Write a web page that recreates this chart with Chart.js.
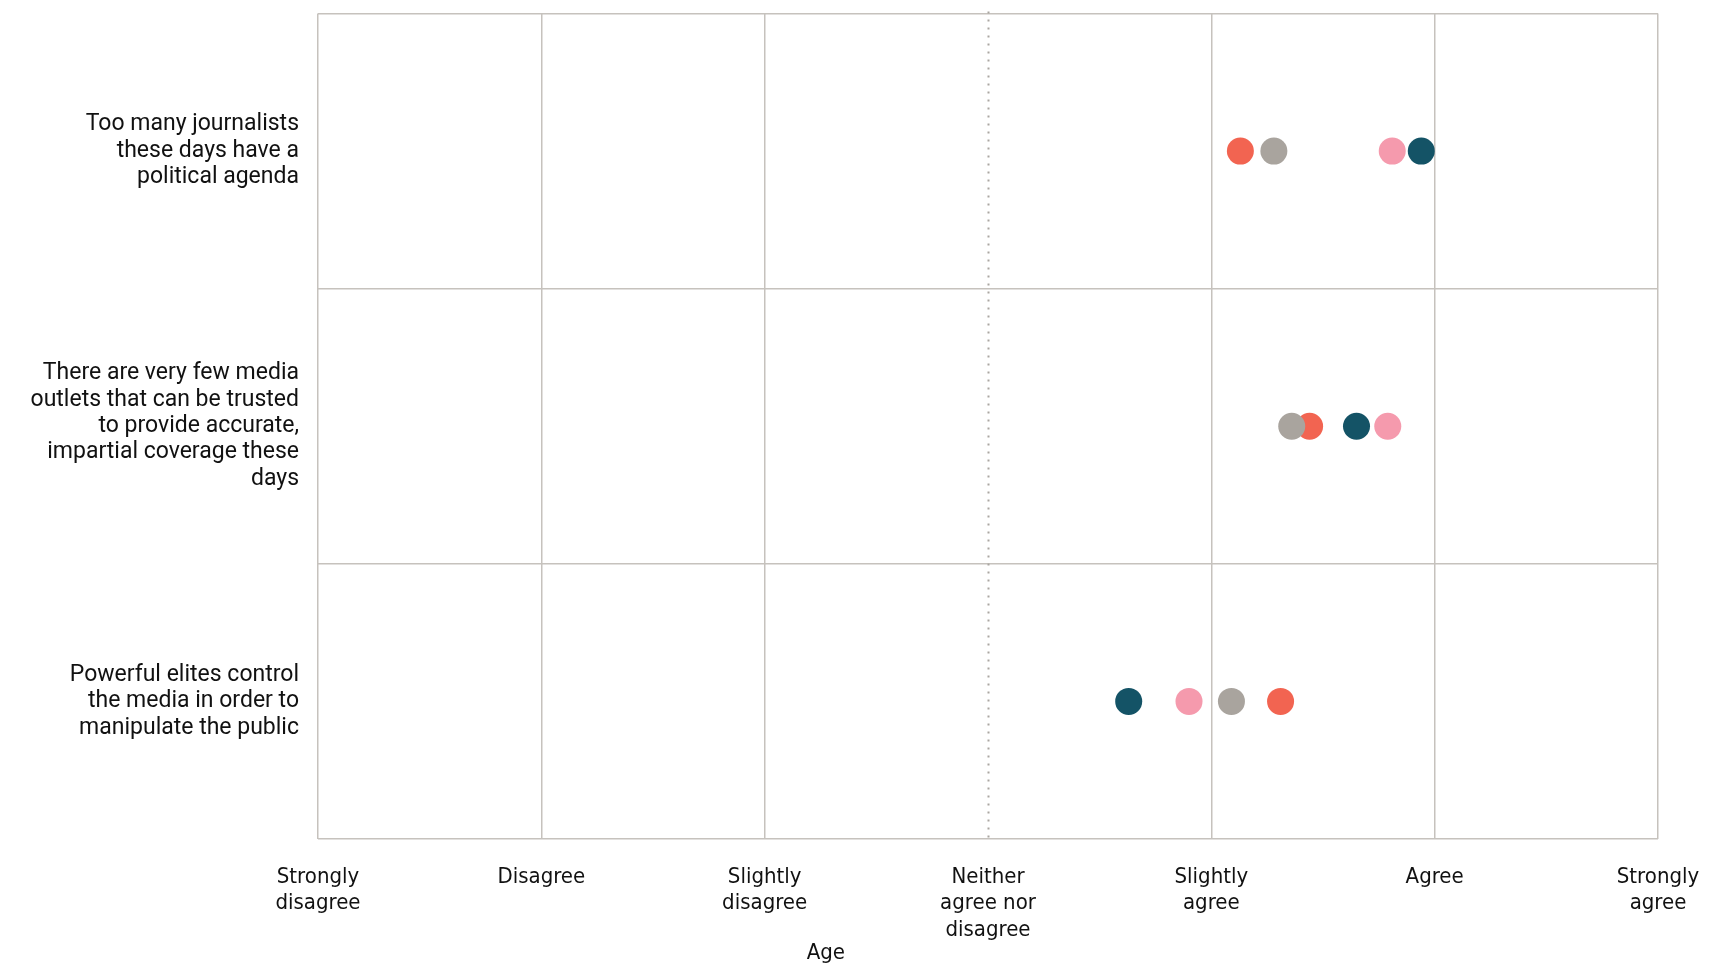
<!DOCTYPE html>
<html>
<head>
<meta charset="utf-8">
<script src="https://cdn.jsdelivr.net/npm/chart.js@4/dist/chart.umd.min.js"></script>
<style>
  html, body { margin: 0; padding: 0; background: #fff; }
  #wrap { width: 1736px; height: 966px; position: relative; }
</style>
</head>
<body>
<div id="wrap"><canvas id="dotChart"></canvas></div>
<script>
// ---- data ----
const statements = [
    ['Too many journalists', 'these days have a', 'political agenda'],
    ['There are very few media', 'outlets that can be trusted', 'to provide accurate,', 'impartial coverage these', 'days'],
    ['Powerful elites control', 'the media in order to', 'manipulate the public']
];
const scaleLabels = [
    ['Strongly', 'disagree'],
    ['Disagree'],
    ['Slightly', 'disagree'],
    ['Neither', 'agree nor', 'disagree'],
    ['Slightly', 'agree'],
    ['Agree'],
    ['Strongly', 'agree']
];
// one value per statement (1 = strongly disagree ... 7 = strongly agree)
const groupNames = ['55+', '45-54', '25-34', '18-24'];
const groupOld = [5.28, 5.36, 5.09];
const groupMid = [5.13, 5.44, 5.31];
const groupYoungAdult = [5.81, 5.79, 4.90];
const groupYoung = [5.94, 5.65, 4.63];
const groupColors = ['#A9A49E', '#F26451', '#F59AAD', '#145366'];
const axisTitle = 'Age';

const FONT = 'Roboto, "Noto Sans", sans-serif';
const NARROW = '"DejaVu Sans Condensed", "Liberation Sans Narrow", Roboto, sans-serif';

function toPoints(vals) {
    return vals.map((v, i) => ({ x: v, y: i }));
}

const seriesVals = [groupOld, groupMid, groupYoungAdult, groupYoung];
const datasets = seriesVals.map((vals, i) => ({
    label: groupNames[i],
    data: toPoints(vals),
    backgroundColor: groupColors[i],
    borderWidth: 0,
    pointRadius: 13.5,
    pointHoverRadius: 13.5
}));

// dotted neutral line + "Age" caption
const extras = {
    id: 'extras',
    beforeDatasetsDraw(chart) {
        const { ctx, chartArea, scales } = chart;
        const x = Math.round(scales.x.getPixelForValue(4)) + 0.5;
        ctx.save();
        ctx.strokeStyle = '#aaa6a1';
        ctx.lineWidth = 2;
        ctx.setLineDash([2, 6]);
        ctx.beginPath();
        ctx.moveTo(x, chartArea.top - 2);
        ctx.lineTo(x, chartArea.bottom);
        ctx.stroke();
        ctx.restore();
    },
    afterDraw(chart) {
        const { ctx, chartArea } = chart;
        ctx.save();
        ctx.font = '22px ' + NARROW;
        ctx.fillStyle = '#111';
        ctx.textAlign = 'center';
        ctx.textBaseline = 'middle';
        ctx.fillText(axisTitle, chartArea.left + chartArea.width * 0.379, 953);
        ctx.restore();
    }
};

new Chart(document.getElementById('dotChart'), {
    type: 'scatter',
    data: { datasets: datasets },
    plugins: [extras],
    options: {
        responsive: true,
        maintainAspectRatio: false,
        animation: false,
        layout: { padding: { top: 10, right: 78, left: 0, bottom: 0 } },
        plugins: {
            legend: { display: false },
            tooltip: { enabled: true }
        },
        scales: {
            x: {
                type: 'linear',
                min: 1,
                max: 7,
                afterFit(scale) { scale.height = 127; },
                grid: {
                    color: (c) => (c.tick && c.tick.value === 4) ? 'rgba(0,0,0,0)' : '#c6c2bd',
                    lineWidth: 1.5,
                    drawTicks: false
                },
                border: { display: false },
                ticks: {
                    stepSize: 1,
                    autoSkip: false,
                    maxRotation: 0,
                    padding: 25,
                    color: '#111',
                    font: { family: NARROW, size: 22, lineHeight: 1.2 },
                    callback: (v) => scaleLabels[v - 1]
                }
            },
            y: {
                type: 'category',
                labels: statements,
                offset: true,
                afterFit(scale) {
                    scale.width = 318;
                    scale.paddingTop = 0;
                    scale.paddingBottom = 0;
                },
                grid: {
                    offset: true,
                    color: '#c6c2bd',
                    lineWidth: 1.5,
                    drawTicks: false
                },
                border: { display: false },
                ticks: {
                    padding: 19,
                    color: '#111',
                    font: { family: FONT, size: 23, lineHeight: 1.15 }
                }
            }
        }
    }
});
</script>
</body>
</html>
